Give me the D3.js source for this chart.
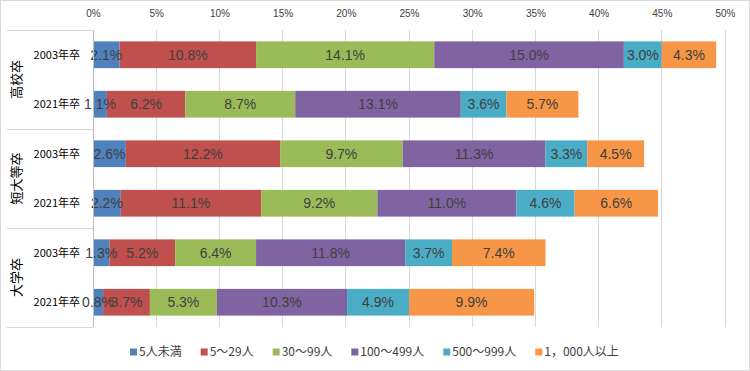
<!DOCTYPE html>
<html>
<head>
<meta charset="utf-8">
<script src="https://cdn.jsdelivr.net/npm/d3@7"></script>
<style>
  body { margin: 0; background: #fff; }
  svg { display: block; }
</style>
</head>
<body>
<div id="chart"></div>
<script>
// 企業規模別の就職者割合（%）
var groups = ["高校卒", "短大等卒", "大学卒"];
var years = ["2003年卒", "2021年卒"];
var sizes = ["5人未満", "5～29人", "30～99人", "100～499人", "500～999人", "1，000人以上"];
var ticks = [0, 5, 10, 15, 20, 25, 30, 35, 40, 45, 50];

// 行の順: 高校卒2003, 高校卒2021, 短大等卒2003, 短大等卒2021, 大学卒2003, 大学卒2021
var under5    = [2.1, 1.1, 2.6, 2.2, 1.3, 0.8];
var s5to29    = [10.8, 6.2, 12.2, 11.1, 5.2, 3.7];
var s30to99   = [14.1, 8.7, 9.7, 9.2, 6.4, 5.3];
var s100to499 = [15.0, 13.1, 11.3, 11.0, 11.8, 10.3];
var s500to999 = [3.0, 3.6, 3.3, 4.6, 3.7, 4.9];
var over1000  = [4.3, 5.7, 4.5, 6.6, 7.4, 9.9];

var series = [under5, s5to29, s30to99, s100to499, s500to999, over1000];
var colors = ["#4F81BD", "#C0504D", "#9BBB59", "#8064A2", "#4BACC6", "#F79646"];

var W = 750, H = 371;
var margin = { top: 30, left: 93, right: 25, bottom: 44 };

var rows = [];
groups.forEach(function (g, gi) {
  years.forEach(function (y, yi) {
    var r = { key: g + "|" + y, group: g, year: y };
    sizes.forEach(function (s, si) { r[s] = series[si][gi * 2 + yi]; });
    rows.push(r);
  });
});

var svg = d3.select("#chart").append("svg")
  .attr("width", W)
  .attr("height", H);

// 外枠
svg.append("rect")
  .attr("x", 0.5).attr("y", 0.5)
  .attr("width", W - 1).attr("height", H - 1)
  .attr("fill", "#fff").attr("stroke", "#d9d9d9");

var x = d3.scaleLinear()
  .domain([0, 50])
  .range([margin.left, W - margin.right]);

var y = d3.scaleBand()
  .domain(rows.map(d => d.key))
  .range([margin.top, H - margin.bottom])
  .paddingInner(0.46)
  .paddingOuter(0.23);

var plotBottom = H - margin.bottom;

// グリッド線
svg.append("g")
  .selectAll("line")
  .data(ticks)
  .enter()
  .append("line")
  .attr("x1", d => x(d)).attr("x2", d => x(d))
  .attr("y1", margin.top).attr("y2", plotBottom)
  .attr("stroke", "#d9d9d9")
  .attr("shape-rendering", "crispEdges");

// 上の目盛り
var xAxis = d3.axisTop(x)
  .tickValues(ticks)
  .tickSize(0)
  .tickFormat(d => d + "%");
svg.append("g")
  .attr("transform", "translate(0," + 20 + ")")
  .call(xAxis)
  .call(g => g.select(".domain").remove())
  .selectAll("text")
  .attr("fill", "#404040")
  .style("font-family", "'Liberation Sans', Arial, sans-serif")
  .style("font-size", "10px");

// 積み上げ棒
var stack = d3.stack().keys(sizes);
var stacked = stack(rows);

var layer = svg.append("g")
  .selectAll("g")
  .data(stacked)
  .enter()
  .append("g")
  .attr("fill", (d, i) => colors[i]);

layer.selectAll("rect")
  .data(d => d)
  .enter()
  .append("rect")
  .attr("x", d => x(d[0]))
  .attr("y", d => y(d.data.key))
  .attr("width", d => x(d[1]) - x(d[0]))
  .attr("height", y.bandwidth());

// データラベル
var labels = svg.append("g");
stacked.forEach(function (s) {
  labels.selectAll(null)
    .data(s)
    .enter()
    .append("text")
    .attr("x", d => (x(d[0]) + x(d[1])) / 2)
    .attr("y", d => y(d.data.key) + y.bandwidth() / 2)
    .attr("dy", "0.36em")
    .attr("text-anchor", "middle")
    .attr("fill", "#404040")
    .style("font-family", "'Liberation Sans Narrow', 'Arial Narrow', 'Liberation Sans', sans-serif")
    .style("font-size", "14px")
    .text(d => (d[1] - d[0]).toFixed(1) + "%");
});

// 左の分類軸
var axisG = svg.append("g").attr("stroke", "#d9d9d9").attr("shape-rendering", "crispEdges");
axisG.append("line")
  .attr("x1", x(0)).attr("x2", x(0))
  .attr("y1", margin.top).attr("y2", plotBottom)
  .attr("stroke", "#bfbfbf");

var groupH = (plotBottom - margin.top) / groups.length;
d3.range(groups.length + 1).forEach(function (i) {
  axisG.append("line")
    .attr("x1", 7).attr("x2", x(0))
    .attr("y1", margin.top + i * groupH)
    .attr("y2", margin.top + i * groupH);
});

svg.append("g")
  .selectAll("text")
  .data(rows)
  .enter()
  .append("text")
  .attr("x", 80)
  .attr("y", d => y(d.key) + y.bandwidth() / 2)
  .attr("dy", "0.35em")
  .attr("text-anchor", "end")
  .attr("fill", "#000")
  .style("font-family", "'Noto Sans CJK JP', sans-serif")
  .style("font-size", "11px")
  .text(d => d.year);

svg.append("g")
  .selectAll("text")
  .data(groups)
  .enter()
  .append("text")
  .attr("transform", (d, i) => "translate(16," + (margin.top + (i + 0.5) * groupH) + ") rotate(-90)")
  .attr("dy", "0.35em")
  .attr("text-anchor", "middle")
  .attr("fill", "#000")
  .style("font-family", "'Noto Sans CJK JP', sans-serif")
  .style("font-size", "13px")
  .text(d => d);

// 凡例
var legend = svg.append("g").attr("transform", "translate(130,352)");
var lx = 0;
sizes.forEach(function (s, i) {
  var item = legend.append("g").attr("transform", "translate(" + lx + ",0)");
  item.append("rect")
    .attr("x", 0).attr("y", -3.5)
    .attr("width", 7).attr("height", 7)
    .attr("fill", colors[i]);
  var t = item.append("text")
    .attr("x", 9)
    .attr("dy", "0.36em")
    .attr("fill", "#404040")
    .style("font-family", "'Noto Sans CJK JP', sans-serif")
    .style("font-size", "12px")
    .text(s);
  lx += 9 + t.node().getComputedTextLength() + 19;
});
</script>
</body>
</html>
